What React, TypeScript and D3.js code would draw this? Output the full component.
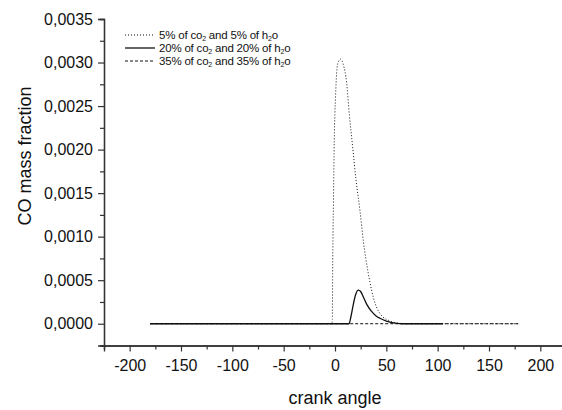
import { useEffect, useRef } from "react";
import * as d3 from "d3";

const W = 562;
const H = 410;
const FONT = "Liberation Sans, Arial, Helvetica, sans-serif";

// crank angle (deg) / CO mass fraction
const angle5 = [-180, -3, -2.6, -2.3, -1.5, -0.7, 0.5, 1.6, 3, 5.5, 8, 11.4, 14, 17.2, 20.5, 24.3, 27.6, 32.4, 38.9, 45, 51.9, 60, 70, 180];
const co5 = [0, 0, 0.00005, 0.00058, 0.0014, 0.00211, 0.0026, 0.00288, 0.003, 0.00304, 0.00298, 0.00276, 0.0024, 0.00203, 0.00165, 0.0013, 0.00095, 0.00058, 0.00024, 0.0001, 0.00004, 0.00001, 0, 0];

const angle20 = [-180, 13.6, 15.5, 17.8, 20, 22.7, 25, 27.5, 30.8, 35, 40, 43.8, 50, 60, 65, 105];
const co20 = [0, 0, 0.00008, 0.00022, 0.00033, 0.000386, 0.00037, 0.00031, 0.000225, 0.00015, 0.00009, 0.000063, 0.00003, 0.000005, 0, 0];

const angle35 = [-180, 180];
const co35 = [0, 0];

const series = [
  { label: ["5% of co", "2", " and 5% of h", "2", "o"], x: angle5, y: co5, dash: "1 2", width: 1 },
  { label: ["20% of co", "2", " and 20% of h", "2", "o"], x: angle20, y: co20, dash: null, width: 1.3 },
  { label: ["35% of co", "2", " and 35% of h", "2", "o"], x: angle35, y: co35, dash: "3 2", width: 1 },
];

const xMajor = d3.range(-200, 201, 50);
const xMinor = d3.range(-225, 226, 25).filter(v => v % 50 !== 0);
const yMajor = d3.range(0, 0.0035001, 0.0005);
const yMinor = d3.range(-0.00025, 0.0035001, 0.0005);

export default function App() {
  const gxRef = useRef<SVGGElement>(null);
  const gyRef = useRef<SVGGElement>(null);

  const x = d3.scaleLinear().domain([-225, 225]).range([104, 566]);
  const y = d3.scaleLinear().domain([-0.00025, 0.0035]).range([345.5, 19]);

  useEffect(() => {
    const fmt = (d: number) => d3.format(".4f")(d).replace(".", ",");
    const style = (g: any) => {
      g.selectAll(".domain").attr("stroke", "#333").attr("stroke-width", 1.3);
      g.selectAll(".tick line").attr("stroke", "#333").attr("stroke-width", 1.2);
      g.selectAll("text").attr("font-size", 16).attr("fill", "#111").attr("font-family", FONT);
    };

    const gx = d3.select(gxRef.current);
    gx.selectAll("*").remove();
    gx.append("g").call(d3.axisBottom(x).tickValues(xMinor).tickSize(4).tickFormat(() => "")).call(style);
    gx.append("g").call(d3.axisBottom(x).tickValues(xMajor).tickSize(6).tickPadding(8.5).tickFormat((d: any) => String(d))).call(style);

    const gy = d3.select(gyRef.current);
    gy.selectAll("*").remove();
    gy.append("g").call(d3.axisLeft(y).tickValues(yMinor).tickSize(4).tickFormat(() => "")).call(style);
    gy.append("g").call(d3.axisLeft(y).tickValues(yMajor).tickSize(6).tickPadding(5).tickFormat(fmt as any)).call(style);
  }, []);

  const line = (xs: number[], ys: number[]) =>
    d3.line<number>()
      .x((_, i) => x(xs[i]))
      .y(v => y(v))
      .curve(d3.curveMonotoneX)(ys) || "";

  return (
    <svg width={W} height={H} style={{ position: "absolute", left: 0, top: 0, background: "#fff" }} fontFamily={FONT}>
      {series.map((s, i) => (
        <path key={i} d={line(s.x, s.y)} fill="none" stroke="#111" strokeWidth={s.width}
          strokeDasharray={s.dash ?? undefined} />
      ))}

      <g ref={gxRef} transform={`translate(0,${y.range()[0]})`} />
      <g ref={gyRef} transform={`translate(${x.range()[0]},0)`} />

      {series.map((s, i) => {
        const ly = 35 + i * 13;
        return (
          <g key={i}>
            <line x1={125} x2={155} y1={ly} y2={ly} stroke="#111" strokeWidth={s.width}
              strokeDasharray={s.dash ?? undefined} />
            <text x={159} y={ly + 4} fontSize={11.5} fill="#111" letterSpacing={-0.2}>
              <tspan>{s.label[0]}</tspan>
              <tspan fontSize={7} dy={2}>{s.label[1]}</tspan>
              <tspan dy={-2}>{s.label[2]}</tspan>
              <tspan fontSize={7} dy={2}>{s.label[3]}</tspan>
              <tspan dy={-2}>{s.label[4]}</tspan>
            </text>
          </g>
        );
      })}

      <text x={335} y={404} textAnchor="middle" fontSize={18} fill="#111">crank angle</text>
      <text transform="translate(31,156) rotate(-90)" textAnchor="middle" fontSize={18} fill="#111">CO mass fraction</text>
    </svg>
  );
}
